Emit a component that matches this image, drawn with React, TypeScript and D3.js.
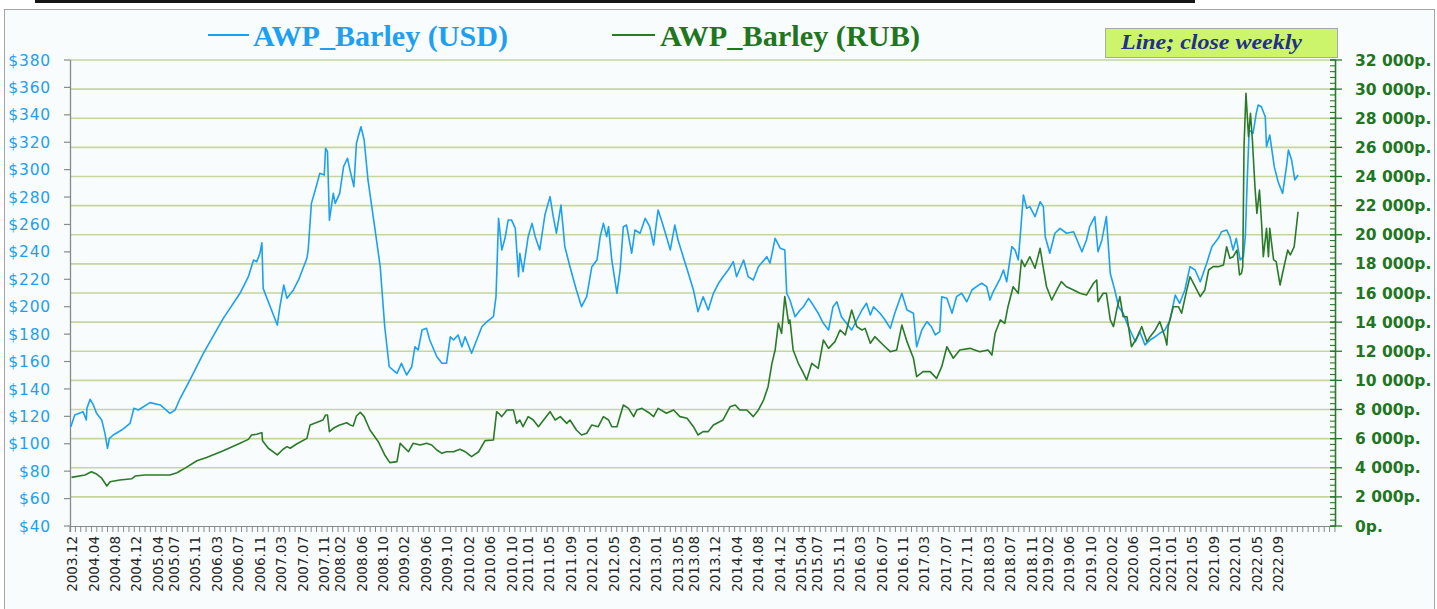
import React from "react";
import * as d3 from "d3";

// Weekly close of barley (AWP), traced as [decimal year, price]
const usdPrice: [number, number][] = [
  [2003.93, 112.4], [2003.99, 121], [2004.12, 123.4], [2004.17, 117.3], [2004.18, 125.9], [2004.23, 132.4],
  [2004.28, 128.3], [2004.33, 122.2], [2004.41, 117.3], [2004.46, 107.6], [2004.5, 96.7], [2004.53, 104],
  [2004.59, 106.4], [2004.72, 110], [2004.85, 114.9], [2004.91, 125.9], [2004.98, 124.6], [2005.16, 130],
  [2005.32, 128.3], [2005.47, 122.2], [2005.55, 124.6], [2005.63, 133.2], [2005.78, 146.5], [2005.99, 166],
  [2006.3, 191.5], [2006.56, 209.8], [2006.69, 221.9], [2006.77, 234.1], [2006.82, 232.8], [2006.87, 239],
  [2006.9, 246.7], [2006.92, 213.4], [2007.03, 200], [2007.14, 186.6], [2007.18, 200], [2007.24, 215.8],
  [2007.29, 206.1], [2007.39, 212.2], [2007.47, 219.5], [2007.6, 235.3], [2007.62, 241.4], [2007.67, 275.4],
  [2007.73, 285.1], [2007.8, 297.3], [2007.87, 296.1], [2007.89, 315.6], [2007.92, 313.1], [2007.95, 263.1],
  [2008.01, 282.7], [2008.04, 275.4], [2008.11, 282.7], [2008.17, 302.2], [2008.23, 308.3], [2008.27, 299.7],
  [2008.33, 287.6], [2008.37, 319.2], [2008.44, 331.3], [2008.49, 321.6], [2008.55, 292.4], [2008.66, 256],
  [2008.74, 229.2], [2008.81, 185.4], [2008.88, 156.2], [2008.94, 153.8], [2009.0, 151.4], [2009.07, 158.7],
  [2009.15, 150.2], [2009.23, 156.2], [2009.28, 170.8], [2009.33, 168.4], [2009.39, 183], [2009.46, 184.2],
  [2009.51, 175.7], [2009.62, 163.5], [2009.7, 158.7], [2009.77, 158.7], [2009.83, 178.1], [2009.88, 175.7],
  [2009.95, 179.4], [2010.01, 170.8], [2010.06, 178.1], [2010.16, 166], [2010.24, 175.7], [2010.32, 185.4],
  [2010.4, 189.1], [2010.5, 192.7], [2010.54, 207.3], [2010.58, 264.5], [2010.63, 241.4], [2010.68, 249.9],
  [2010.73, 263.3], [2010.78, 263.3], [2010.84, 257.2], [2010.89, 221.9], [2010.91, 239], [2010.96, 225.6],
  [2011.04, 251.1], [2011.1, 260.8], [2011.15, 251.1], [2011.22, 241.4], [2011.3, 266.9], [2011.38, 280.3],
  [2011.43, 265.7], [2011.48, 253.6], [2011.55, 274.2], [2011.61, 243.8], [2011.69, 229.2], [2011.79, 212.2],
  [2011.87, 200], [2011.95, 207.3], [2012.03, 229.2], [2012.11, 234.1], [2012.16, 251.1], [2012.21, 260.8],
  [2012.26, 251.1], [2012.29, 258.4], [2012.34, 234.1], [2012.42, 209.8], [2012.47, 226.8], [2012.52, 258.4],
  [2012.57, 259.6], [2012.65, 239], [2012.7, 256], [2012.78, 253.6], [2012.86, 264.5], [2012.93, 258.4],
  [2012.99, 245], [2013.06, 270.6], [2013.12, 262], [2013.19, 251.1], [2013.25, 241.4], [2013.32, 259.6],
  [2013.37, 248.7], [2013.45, 236.5], [2013.53, 224.4], [2013.61, 212.2], [2013.68, 196.4], [2013.76, 207.3],
  [2013.84, 197.6], [2013.92, 209.8], [2014.0, 217.1], [2014.07, 221.9], [2014.15, 226.8], [2014.23, 232.9],
  [2014.28, 221.9], [2014.39, 234.1], [2014.46, 221.9], [2014.54, 219.5], [2014.62, 229.2], [2014.75, 236.5],
  [2014.8, 231.7], [2014.88, 249.9], [2014.96, 242.6], [2015.03, 241.4], [2015.06, 209.8], [2015.11, 204.9],
  [2015.19, 192.7], [2015.27, 197.6], [2015.32, 200], [2015.4, 206.1], [2015.47, 201.2], [2015.55, 195.2],
  [2015.63, 187.9], [2015.71, 183], [2015.78, 200], [2015.84, 203.6], [2015.91, 192.7], [2015.99, 187.9],
  [2016.07, 183], [2016.15, 190.3], [2016.23, 197.6], [2016.3, 202.5], [2016.36, 194], [2016.41, 200],
  [2016.51, 195.2], [2016.59, 190.3], [2016.67, 184.2], [2016.74, 195.2], [2016.85, 209.8], [2016.93, 197.6],
  [2017.03, 195.2], [2017.08, 170.8], [2017.16, 183], [2017.24, 189.1], [2017.31, 185.4], [2017.37, 179.4],
  [2017.44, 181.8], [2017.47, 207.3], [2017.55, 206.1], [2017.63, 195.2], [2017.7, 207.3], [2017.78, 209.8],
  [2017.86, 203.6], [2017.94, 212.2], [2018.01, 214.6], [2018.09, 217.1], [2018.17, 214.6], [2018.22, 204.9],
  [2018.27, 210.9], [2018.38, 220.7], [2018.43, 226.8], [2018.48, 218.2], [2018.56, 243.8], [2018.61, 241.4],
  [2018.66, 234.1], [2018.69, 251.1], [2018.74, 281.5], [2018.79, 271.8], [2018.84, 273], [2018.92, 265.7],
  [2019.0, 276.6], [2019.05, 273], [2019.08, 251.1], [2019.15, 239], [2019.23, 253.6], [2019.31, 257.2],
  [2019.41, 253.6], [2019.52, 254.7], [2019.65, 240.1], [2019.72, 248.7], [2019.77, 258.4], [2019.85, 265.7],
  [2019.9, 240.1], [2019.96, 248.7], [2020.03, 265.7], [2020.09, 224.4], [2020.16, 212.2], [2020.22, 200],
  [2020.29, 195.2], [2020.35, 187.9], [2020.42, 180.6], [2020.48, 174.5], [2020.55, 181.8], [2020.63, 172.1],
  [2020.71, 175.7], [2020.79, 178.1], [2020.86, 180.6], [2020.94, 183], [2021.02, 190.3], [2021.1, 208.5],
  [2021.17, 202.5], [2021.25, 212.2], [2021.33, 229.2], [2021.41, 226.8], [2021.49, 218.2], [2021.59, 231.7],
  [2021.67, 243.8], [2021.77, 249.9], [2021.82, 254.7], [2021.9, 256], [2021.95, 251.1], [2022.0, 241.4],
  [2022.05, 249.9], [2022.11, 234.1], [2022.16, 236.5], [2022.19, 251.1], [2022.22, 292.5], [2022.25, 328.9],
  [2022.31, 326.5], [2022.36, 341.1], [2022.39, 347.2], [2022.44, 345.9], [2022.5, 338.6], [2022.52, 316.7],
  [2022.57, 325.3], [2022.64, 302.2], [2022.7, 291.2], [2022.77, 282.7], [2022.83, 302.2], [2022.86, 314.3],
  [2022.91, 307], [2022.96, 292.5], [2023.01, 296.1],
];

const rubPrice: [number, number][] = [
  [2003.94, 3340], [2004.15, 3500], [2004.25, 3730], [2004.33, 3570], [2004.41, 3280], [2004.49, 2750],
  [2004.54, 3040], [2004.69, 3160], [2004.88, 3250], [2004.93, 3430], [2005.08, 3500], [2005.47, 3500],
  [2005.58, 3660], [2005.7, 3960], [2005.89, 4480], [2006.04, 4710], [2006.3, 5170], [2006.56, 5680],
  [2006.69, 5950], [2006.74, 6250], [2006.82, 6300], [2006.87, 6370], [2006.9, 6410], [2006.91, 5860],
  [2007.0, 5340], [2007.14, 4880], [2007.23, 5270], [2007.29, 5450], [2007.34, 5340], [2007.44, 5630],
  [2007.6, 6020], [2007.65, 6940], [2007.78, 7160], [2007.85, 7280], [2007.89, 7620], [2007.92, 7620],
  [2007.95, 6480], [2008.01, 6710], [2008.11, 6940], [2008.22, 7090], [2008.27, 6940], [2008.32, 6870],
  [2008.37, 7550], [2008.43, 7810], [2008.49, 7510], [2008.58, 6590], [2008.71, 5790], [2008.81, 4880],
  [2008.89, 4350], [2009.0, 4420], [2009.05, 5680], [2009.1, 5450], [2009.18, 5100], [2009.25, 5680],
  [2009.36, 5560], [2009.46, 5680], [2009.54, 5560], [2009.62, 5220], [2009.7, 4990], [2009.77, 5100],
  [2009.88, 5100], [2009.98, 5270], [2010.06, 5100], [2010.16, 4760], [2010.27, 5100], [2010.37, 5860],
  [2010.5, 5910], [2010.55, 7850], [2010.58, 7740], [2010.63, 7510], [2010.71, 7970], [2010.81, 7970],
  [2010.86, 7050], [2010.91, 7280], [2010.96, 6820], [2011.04, 7510], [2011.12, 7280], [2011.2, 6820],
  [2011.28, 7280], [2011.38, 7850], [2011.46, 7280], [2011.54, 7510], [2011.64, 7050], [2011.69, 7280],
  [2011.79, 6590], [2011.87, 6250], [2011.95, 6370], [2012.03, 6940], [2012.13, 6820], [2012.21, 7510],
  [2012.29, 7280], [2012.34, 6820], [2012.42, 6820], [2012.52, 8310], [2012.6, 8080], [2012.68, 7510],
  [2012.73, 7970], [2012.81, 8080], [2012.93, 7740], [2012.99, 7510], [2013.06, 8080], [2013.19, 7740],
  [2013.3, 7970], [2013.4, 7510], [2013.51, 7400], [2013.61, 6820], [2013.68, 6250], [2013.76, 6480],
  [2013.84, 6480], [2013.92, 6940], [2014.07, 7280], [2014.18, 8190], [2014.26, 8310], [2014.33, 7970],
  [2014.44, 7970], [2014.54, 7510], [2014.62, 7970], [2014.7, 8650], [2014.77, 9570], [2014.83, 11170],
  [2014.88, 12090], [2014.93, 13920], [2014.98, 13230], [2015.03, 15750], [2015.09, 13920], [2015.11, 14150],
  [2015.16, 12090], [2015.24, 11170], [2015.32, 10490], [2015.37, 10030], [2015.45, 11170], [2015.55, 10830],
  [2015.63, 12770], [2015.71, 12200], [2015.81, 12660], [2015.89, 13460], [2015.97, 13120], [2016.07, 14830],
  [2016.15, 13690], [2016.23, 13460], [2016.28, 13570], [2016.36, 12550], [2016.43, 13000], [2016.56, 12430],
  [2016.67, 11970], [2016.77, 12090], [2016.85, 13800], [2016.93, 12660], [2017.03, 11520], [2017.08, 10250],
  [2017.18, 10600], [2017.29, 10600], [2017.39, 10140], [2017.47, 10940], [2017.55, 12310], [2017.65, 11520],
  [2017.75, 12090], [2017.91, 12200], [2018.06, 11970], [2018.19, 12090], [2018.25, 11740], [2018.3, 13230],
  [2018.38, 14150], [2018.45, 13920], [2018.5, 15060], [2018.58, 16430], [2018.66, 15980], [2018.71, 18270],
  [2018.76, 17810], [2018.84, 18490], [2018.92, 17700], [2019.0, 19070], [2019.05, 17700], [2019.1, 16430],
  [2019.18, 15520], [2019.26, 16210], [2019.33, 16780], [2019.41, 16430], [2019.52, 16210], [2019.62, 15980],
  [2019.72, 15860], [2019.83, 16670], [2019.88, 16890], [2019.9, 15400], [2019.98, 15980], [2020.03, 15980],
  [2020.09, 14150], [2020.14, 13690], [2020.19, 14830], [2020.24, 15750], [2020.29, 14370], [2020.35, 14370],
  [2020.42, 12310], [2020.5, 12890], [2020.58, 13690], [2020.66, 12660], [2020.71, 13000], [2020.79, 13460],
  [2020.86, 14030], [2020.94, 13000], [2020.97, 12430], [2020.99, 13690], [2021.07, 15060], [2021.15, 15060],
  [2021.2, 14610], [2021.28, 16210], [2021.33, 17120], [2021.41, 16430], [2021.49, 15750], [2021.56, 16210],
  [2021.62, 17580], [2021.69, 17810], [2021.77, 17810], [2021.85, 17920], [2021.9, 19180], [2021.95, 18380],
  [2022.0, 18490], [2022.06, 18950], [2022.1, 17240], [2022.13, 17350], [2022.15, 17810], [2022.17, 26050],
  [2022.2, 29710], [2022.24, 26730], [2022.27, 28340], [2022.3, 26510], [2022.34, 23300], [2022.37, 21470],
  [2022.41, 23070], [2022.44, 21010], [2022.47, 18490], [2022.52, 20440], [2022.55, 18490], [2022.57, 20440],
  [2022.63, 18270], [2022.67, 18150], [2022.73, 16550], [2022.78, 17580], [2022.85, 18950], [2022.89, 18610],
  [2022.95, 19180], [2023.01, 21580],
];

const dateLabels = [
  "2003.12", "2004.04", "2004.08", "2004.12", "2005.04", "2005.07", "2005.11", "2006.03", "2006.07", "2006.11",
  "2007.03", "2007.07", "2007.11", "2008.02", "2008.06", "2008.10", "2009.02", "2009.06", "2009.10", "2010.02",
  "2010.06", "2010.10", "2011.01", "2011.05", "2011.09", "2012.01", "2012.05", "2012.09", "2013.01", "2013.05",
  "2013.08", "2013.12", "2014.04", "2014.08", "2014.12", "2015.04", "2015.07", "2015.11", "2016.03", "2016.07",
  "2016.11", "2017.03", "2017.07", "2017.11", "2018.03", "2018.07", "2018.11", "2019.02", "2019.06", "2019.10",
  "2020.02", "2020.06", "2020.10", "2021.01", "2021.05", "2021.09", "2022.01", "2022.05", "2022.09",
];

const usdTicks = [40, 60, 80, 100, 120, 140, 160, 180, 200, 220, 240, 260, 280, 300, 320, 340, 360, 380];
const rubTicks = [0, 2000, 4000, 6000, 8000, 10000, 12000, 14000, 16000, 18000, 20000, 22000, 24000, 26000, 28000, 30000, 32000];

const USD_COLOR = "#1ea0f0";
const RUB_COLOR = "#2a7a2a";
const RUB_TEXT = "#1f761f";
const GRID = "#c5d69f";

const fmtRub = (v: number) =>
  v === 0 ? "0р." : d3.format(",")(v).replace(/,/g, " ") + "р.";

export default function App() {
  const left = 70, right = 1336, top = 60, bottom = 526;
  const startYear = 2003 + 11 / 12;
  const x = d3.scaleLinear().domain([startYear, 2023.6]).range([left, right]);
  const yUsd = d3.scaleLinear().domain([40, 380]).range([bottom, top]);
  const yRub = d3.scaleLinear().domain([0, 32000]).range([bottom, top]);

  const usdLine = d3.line<[number, number]>().x((d) => x(d[0])).y((d) => yUsd(d[1]));
  const rubLine = d3.line<[number, number]>().x((d) => x(d[0])).y((d) => yRub(d[1]));

  // monthly minor ticks along the date axis
  const monthTicks = d3.range(0, 237).map((k) => startYear + k / 12).filter((t) => t <= 2023.6);
  // minor ticks on the rouble axis
  const rubMinor = d3.range(0, 32001, 400);

  const labelPos = (s: string) => {
    const [yy, mm] = s.split(".").map(Number);
    return yy + (mm - 1 + 0.5) / 12;
  };

  return (
    <svg
      width={1437}
      height={609}
      style={{ position: "absolute", left: 0, top: 0, display: "block" }}
      fontFamily="'DejaVu Sans', Verdana, sans-serif"
    >
      <rect x={0} y={0} width={1437} height={609} fill="#ffffff" />
      <rect x={35} y={0} width={1160} height={3} fill="#151515" />
      <rect x={4.5} y={9.5} width={1430} height={620} fill="#f8fcfc" stroke="#a4a4a4" strokeWidth={1} />

      {/* horizontal gridlines follow the rouble axis */}
      {rubTicks.slice(1).map((v) => (
        <line key={"g" + v} x1={left} x2={right} y1={yRub(v)} y2={yRub(v)} stroke={GRID} strokeWidth={1.6} />
      ))}

      {/* date axis */}
      <line x1={left} x2={right} y1={bottom + 0.5} y2={bottom + 0.5} stroke="#8a8a8a" strokeWidth={1.2} />
      {monthTicks.map((t, i) => (
        <line key={"mt" + i} x1={x(t)} x2={x(t)} y1={bottom} y2={bottom + 6} stroke="#8a8a8a" strokeWidth={1} />
      ))}
      {dateLabels.map((s) => {
        const px = x(labelPos(s));
        return (
          <text
            key={s}
            transform={`translate(${px + 4.5},${536}) rotate(-90)`}
            textAnchor="end"
            fontSize={13.5}
            fill="#262626"
          >
            {s}
          </text>
        );
      })}

      {/* dollar axis */}
      <line x1={left + 0.5} x2={left + 0.5} y1={top} y2={bottom + 6} stroke="#8a8a8a" strokeWidth={1.3} />
      {usdTicks.map((v) => (
        <g key={"u" + v}>
          <line x1={left - 6} x2={left} y1={yUsd(v)} y2={yUsd(v)} stroke="#8a8a8a" strokeWidth={1.2} />
          <text x={51} y={yUsd(v)} dy="0.36em" textAnchor="end" fontSize={15.5} letterSpacing={0.8} fill={USD_COLOR}>
            {"$" + v}
          </text>
        </g>
      ))}

      {/* rouble axis */}
      <line x1={right - 0.5} x2={right - 0.5} y1={top} y2={bottom} stroke={RUB_COLOR} strokeWidth={1.6} />
      {rubMinor.map((v) => (
        <line key={"rm" + v} x1={right - 6} x2={right} y1={yRub(v)} y2={yRub(v)} stroke={RUB_COLOR} strokeWidth={1.1} />
      ))}
      {rubTicks.map((v) => (
        <g key={"r" + v}>
          <line x1={right - 6} x2={right + 6} y1={yRub(v)} y2={yRub(v)} stroke={RUB_COLOR} strokeWidth={1.3} />
          <text x={1355} y={yRub(v)} dy="0.36em" fontSize={15.5} fontWeight="bold" fill={RUB_TEXT}>
            {fmtRub(v)}
          </text>
        </g>
      ))}

      {/* series */}
      <path d={usdLine(usdPrice) ?? ""} fill="none" stroke={USD_COLOR} strokeWidth={1.6} strokeLinejoin="round" />
      <path d={rubLine(rubPrice) ?? ""} fill="none" stroke={RUB_COLOR} strokeWidth={1.6} strokeLinejoin="round" />

      {/* legend */}
      <g fontFamily="'Liberation Serif', 'DejaVu Serif', serif" fontWeight="bold" fontSize={30}>
        <line x1={208} x2={249} y1={35} y2={35} stroke={USD_COLOR} strokeWidth={2} />
        <text x={253} y={46} fill={USD_COLOR} textLength={255} lengthAdjust="spacingAndGlyphs">
          AWP_Barley (USD)
        </text>
        <line x1={612} x2={655} y1={35} y2={35} stroke={RUB_COLOR} strokeWidth={2} />
        <text x={660} y={46} fill={RUB_TEXT} textLength={260} lengthAdjust="spacingAndGlyphs">
          AWP_Barley (RUB)
        </text>
      </g>

      {/* note box */}
      <rect x={1105.5} y={28.5} width={232} height={29} fill="#cdf56b" stroke="#a9a9a9" strokeWidth={1} />
      <text
        x={1121}
        y={49}
        fontFamily="'Liberation Serif', 'DejaVu Serif', serif"
        fontStyle="italic"
        fontWeight="bold"
        fontSize={21}
        fill="#233089"
        textLength={181}
        lengthAdjust="spacingAndGlyphs"
      >
        Line; close weekly
      </text>
    </svg>
  );
}
